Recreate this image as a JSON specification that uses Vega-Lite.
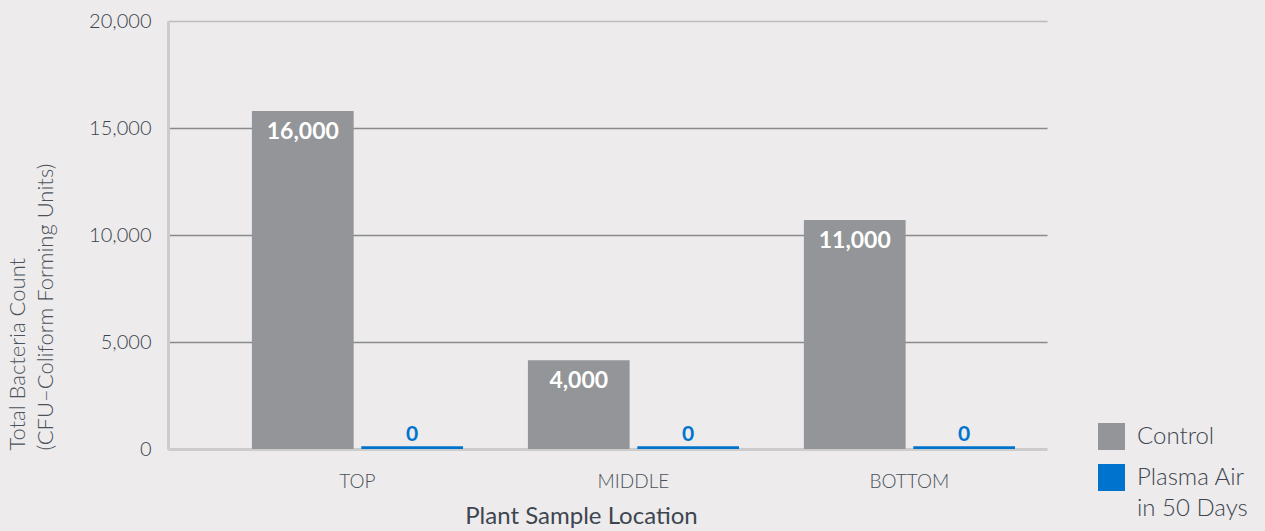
{
  "$schema": "https://vega.github.io/schema/vega-lite/v6.json",
  "width": 879,
  "height": 428,
  "autosize": "none",
  "padding": {"left": 168, "top": 21, "right": 218, "bottom": 82},
  "background": "#edebec",
  "config": {
    "view": {"stroke": null},
    "font": "Lato",
    "axis": {"labelFont": "Lato", "titleFont": "Lato"},
    "style": {"guide-label": {"lineHeight": 31}}
  },
  "data": {
    "values": [
      {"location": "TOP", "series": "Control", "count": 15800, "label": "16,000"},
      {"location": "TOP", "series": "Plasma Air in 50 Days", "count": 130, "label": "0"},
      {"location": "MIDDLE", "series": "Control", "count": 4150, "label": "4,000"},
      {"location": "MIDDLE", "series": "Plasma Air in 50 Days", "count": 130, "label": "0"},
      {"location": "BOTTOM", "series": "Control", "count": 10700, "label": "11,000"},
      {"location": "BOTTOM", "series": "Plasma Air in 50 Days", "count": 130, "label": "0"}
    ]
  },
  "encoding": {
    "x": {
      "field": "location",
      "type": "nominal",
      "sort": ["TOP", "MIDDLE", "BOTTOM"],
      "scale": {"paddingInner": 0.235, "paddingOuter": 0.21, "align": 0.724},
      "axis": {
        "title": "Plant Sample Location",
        "titleFontSize": 24,
        "titleFontWeight": "normal",
        "titleColor": "#3d4650",
        "titleX": 413,
        "titleY": 74,
        "titleBaseline": "alphabetic",
        "labelAngle": 0,
        "labelFontSize": 19,
        "labelFontWeight": 300,
        "labelColor": "#4a525a",
        "labelPadding": 23,
        "ticks": false,
        "domainColor": "#cccccc",
        "domainWidth": 3,
        "grid": false
      }
    },
    "xOffset": {
      "field": "series",
      "type": "nominal",
      "sort": ["Control", "Plasma Air in 50 Days"],
      "scale": {"paddingInner": 0.07}
    },
    "y": {
      "field": "count",
      "type": "quantitative",
      "scale": {"domain": [0, 20000]},
      "axis": {
        "values": [0, 5000, 10000, 15000, 20000],
        "format": ",d",
        "title": ["Total Bacteria Count", "(CFU–Coliform Forming Units)"],
        "titleFontSize": 22,
        "titleFontWeight": 300,
        "titleColor": "#4a525a",
        "titleAngle": -90,
        "titleAlign": "left",
        "titleBaseline": "top",
        "titleX": -161,
        "titleY": 429,
        "titleLineHeight": 28,
        "labelFontSize": 20,
        "labelFontWeight": 300,
        "labelColor": "#3a444d",
        "labelPadding": 17,
        "ticks": false,
        "domainColor": "#cccccc",
        "domainWidth": 3,
        "grid": true,
        "gridColor": {
          "condition": [
            {"test": "datum.value == 0", "value": "transparent"},
            {"test": "datum.value == 20000", "value": "#bdbdbd"}
          ],
          "value": "#8a8a8a"
        },
        "gridWidth": 1.3
      }
    }
  },
  "layer": [
    {
      "mark": {"type": "bar"},
      "encoding": {
        "color": {
          "field": "series",
          "type": "nominal",
          "scale": {"domain": ["Control", "Plasma Air in 50 Days"], "range": ["#939598", "#0073cf"]},
          "legend": {
            "title": null,
            "orient": "none",
            "legendX": 930,
            "legendY": 402,
            "symbolType": "square",
            "symbolSize": 729,
            "symbolStrokeWidth": 0,
            "symbolOpacity": 1,
            "labelFontSize": 24,
            "labelFont": "Lato",
            "labelFontWeight": 300,
            "labelColor": "#3d4650",
            "labelOffset": 12,
            "labelLimit": 300,
            "rowPadding": 14,
            "labelExpr": "datum.label == 'Plasma Air in 50 Days' ? ['Plasma Air', 'in 50 Days'] : datum.label"
          }
        }
      }
    },
    {
      "transform": [{"filter": "datum.series == 'Control'"}],
      "mark": {"type": "text", "baseline": "top", "dy": 10, "color": "white", "fontSize": 23, "fontWeight": "bold", "font": "Lato"},
      "encoding": {"text": {"field": "label"}}
    },
    {
      "transform": [{"filter": "datum.series != 'Control'"}],
      "mark": {"type": "text", "baseline": "alphabetic", "dy": -5, "color": "#0073cf", "fontSize": 21, "fontWeight": "bold", "font": "Lato"},
      "encoding": {"text": {"field": "label"}}
    }
  ]
}
